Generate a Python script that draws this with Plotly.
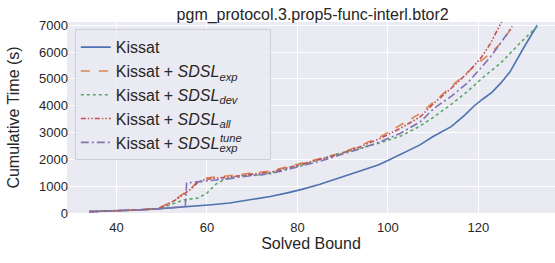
import plotly.graph_objects as go

# ---------------- data ----------------
kissat_x = [34, 40, 45, 49, 52, 55, 58, 61, 65, 70, 74, 78, 81, 85, 89, 94, 98, 100, 103, 105, 107, 110, 114, 117, 119, 121, 123, 125, 127, 130, 133]
kissat_y = [50, 80, 115, 155, 190, 225, 265, 310, 372, 500, 617, 760, 880, 1070, 1300, 1560, 1796, 1960, 2200, 2350, 2530, 2850, 3220, 3650, 3980, 4250, 4500, 4850, 5264, 6150, 7000]

exp_x = [34, 40, 45, 49, 50, 51, 53, 55, 56.5, 58, 59.5, 62, 65, 70, 74, 81, 85, 89.5, 94, 98.4, 102.8, 107.2, 110.2, 114, 117.5, 120, 122.7, 124.9, 127.8, 128.2]
exp_y = [50, 80, 115, 160, 230, 320, 500, 740, 930, 1175, 1300, 1340, 1390, 1500, 1560, 1860, 2030, 2230, 2520, 2848, 3282, 3717, 4150, 4700, 5204, 5600, 5948, 6320, 7000, 7100]

dev_x = [34, 40, 45, 49, 50, 51, 53, 55, 58, 60, 62, 64, 67, 71.9, 74, 81, 85, 89.5, 94, 98, 103, 107, 110, 114, 117.5, 121, 125, 129, 133]
dev_y = [50, 80, 115, 155, 170, 250, 380, 490, 558, 743, 1080, 1260, 1380, 1424, 1490, 1790, 2000, 2230, 2420, 2600, 2880, 3230, 3560, 4050, 4520, 5050, 5600, 6300, 6950]

all_x = [34, 40, 45, 49, 50, 51, 53, 55, 56.5, 58, 59.5, 62, 65, 70, 74, 81, 85, 89.5, 94, 98.4, 102.8, 107.2, 110.2, 114, 117.5, 120.5, 122.7, 124.9, 125.2]
all_y = [50, 80, 115, 160, 220, 300, 480, 720, 900, 1150, 1250, 1300, 1340, 1450, 1520, 1820, 1990, 2200, 2480, 2786, 3160, 3591, 4100, 4650, 5204, 5762, 6320, 7063, 7150]

tune_x = [34, 40, 45, 49, 52, 55.2, 55.5, 56, 58, 60, 62, 65, 70, 74, 80.7, 85, 89.5, 94, 98.4, 102.8, 107.2, 110.2, 114, 117.5, 120, 122.7, 125, 127.1, 127.5]
tune_y = [50, 80, 115, 155, 190, 235, 1120, 1130, 1150, 1190, 1230, 1280, 1400, 1461, 1732, 1930, 2168, 2400, 2662, 2974, 3405, 3903, 4350, 4833, 5300, 5822, 6350, 6877, 6960]

names = [
    "Kissat",
    "Kissat + <i>SDSL</i><sub><i>exp</i></sub>",
    "Kissat + <i>SDSL</i><sub><i>dev</i></sub>",
    "Kissat + <i>SDSL</i><sub><i>all</i></sub>",
    "Kissat + <i>SDSL</i><sub><i>exp</i></sub><span style=\"letter-spacing:-22px\"> </span>"
    "<sup><i>tune</i></sup>&nbsp;&nbsp;&nbsp;&nbsp;&nbsp;",
]
x_ticks = [40, 60, 80, 100, 120]
y_ticks = [0, 1000, 2000, 3000, 4000, 5000, 6000, 7000]

colors = ["#4C72B0", "#DD8452", "#55A868", "#C44E52", "#8172B3"]
dashes = ["solid", "dash", "dot", "5px,2px,1.5px,2px,1.5px,2px", "8px,3px,2px,3px"]
series = [(kissat_x, kissat_y), (exp_x, exp_y), (dev_x, dev_y), (all_x, all_y), (tune_x, tune_y)]

fig = go.Figure()
for (xs, ys), name, c, d in zip(series, names, colors, dashes):
    fig.add_trace(go.Scatter(x=xs, y=ys, mode="lines", name=name,
                             line=dict(color=c, width=1.6, dash=d)))

FONT = "Liberation Sans, Arial, sans-serif"
fig.update_layout(
    width=555, height=263,
    margin=dict(l=67, r=0, t=22, b=50, autoexpand=False),
    paper_bgcolor="white",
    plot_bgcolor="#EAEAF2",
    font=dict(family=FONT, color="#262626", size=13),
    title=dict(text="pgm_protocol.3.prop5-func-interl.btor2", x=0.5634, xanchor="center",
               y=0.945, yanchor="middle", font=dict(size=16, color="#262626"), automargin=False),
    legend=dict(x=0.016, y=0.962, xanchor="left", yanchor="top",
                bgcolor="rgba(234,234,242,0.85)", bordercolor="#CFCFD6", borderwidth=1,
                font=dict(size=16, family=FONT, color="#262626"),
                itemwidth=30, tracegroupgap=0),
    showlegend=True,
)
fig.update_xaxes(range=[29.05, 136.95], tickvals=x_ticks, showgrid=True, gridcolor="white",
                 gridwidth=1.1, zeroline=False, showline=False, ticks="", automargin=False,
                 ticklabelstandoff=5, tickfont=dict(size=13),
                 title=dict(text="Solved Bound", font=dict(size=16), standoff=1))
fig.update_yaxes(range=[0, 7120], tickvals=y_ticks, showgrid=True, gridcolor="white",
                 gridwidth=1.1, zeroline=False, showline=False, ticks="", automargin=False,
                 ticklabelstandoff=-2, tickfont=dict(size=13),
                 title=dict(text="Cumulative Time (s)", font=dict(size=16), standoff=15))

fig.write_html("out.html", config={"displayModeBar": False},
               post_script="document.body.style.margin='0px';")
